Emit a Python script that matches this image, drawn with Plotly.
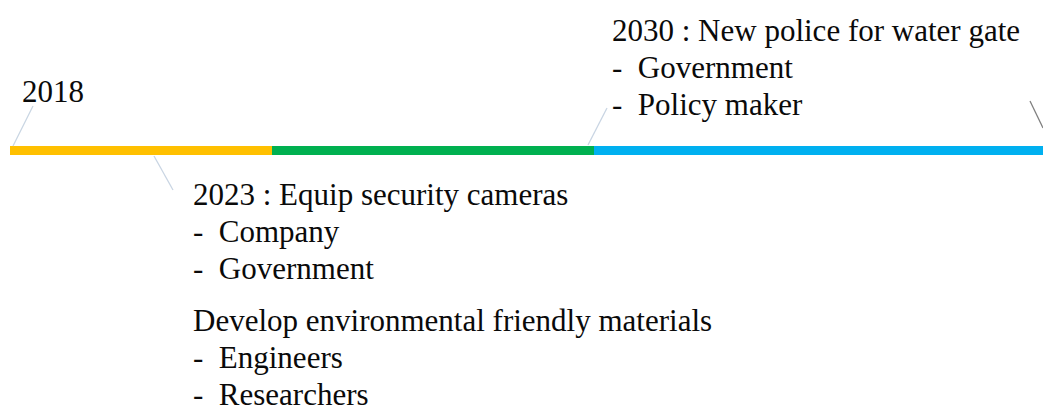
import plotly.graph_objects as go

# timeline segments (horizontal positions along the timeline strip)
seg_start = [10, 272, 594]
seg_end = [272, 594, 1043]
seg_colors = ["#FFC000", "#00B050", "#00B0F0"]

# leader lines: (x0, y0) on the strip -> (x1, y1) near the label
lead_x0 = [13, 154, 588, 1030]
lead_y0 = [146, 156, 145, 101]
lead_x1 = [33, 173, 607, 1043]
lead_y1 = [106, 190, 108, 128]
lead_colors = ["#C9D5E3", "#C9D5E3", "#C9D5E3", "#7F7F7F"]

label_2018 = ["2018"]
label_2030 = ["2030 : New police for water gate", "-  Government", "-  Policy maker"]
label_2023 = ["2023 : Equip security cameras", "-  Company", "-  Government"]
label_extra = ["Develop environmental friendly materials", "-  Engineers", "-  Researchers"]

fig = go.Figure()

fig.add_trace(go.Bar(
    y=[150.5] * len(seg_start),
    x=[e - s for s, e in zip(seg_start, seg_end)],
    base=seg_start,
    orientation="h",
    width=9,
    marker=dict(color=seg_colors, line=dict(width=0)),
    showlegend=False,
    hoverinfo="skip",
))

for x0, y0, x1, y1, c in zip(lead_x0, lead_y0, lead_x1, lead_y1, lead_colors):
    fig.add_trace(go.Scatter(
        x=[x0, x1], y=[y0, y1], mode="lines",
        line=dict(color=c, width=1.3),
        showlegend=False, hoverinfo="skip",
    ))

font = dict(family="Liberation Serif, Times New Roman, serif", size=31, color="#0a0a0a")


def add_block(lines, x, y_first, step=37):
    for i, t in enumerate(lines):
        fig.add_annotation(
            x=x, y=y_first + i * step, text=t, showarrow=False,
            xanchor="left", yanchor="middle", font=font,
        )


add_block(label_2018, 20, 91)
add_block(label_2030, 610, 30)
add_block(label_2023, 191, 194)
add_block(label_extra, 191, 320)

fig.update_layout(
    width=1043,
    height=405,
    margin=dict(l=0, r=0, t=0, b=0),
    paper_bgcolor="white",
    plot_bgcolor="white",
    bargap=0,
    xaxis=dict(range=[0, 1043], visible=False, fixedrange=True),
    yaxis=dict(range=[405, 0], visible=False, fixedrange=True),
)

fig.write_html(
    "out.html",
    config={"displayModeBar": False},
    post_script="document.body.style.margin='0';document.body.style.overflow='hidden';",
)
